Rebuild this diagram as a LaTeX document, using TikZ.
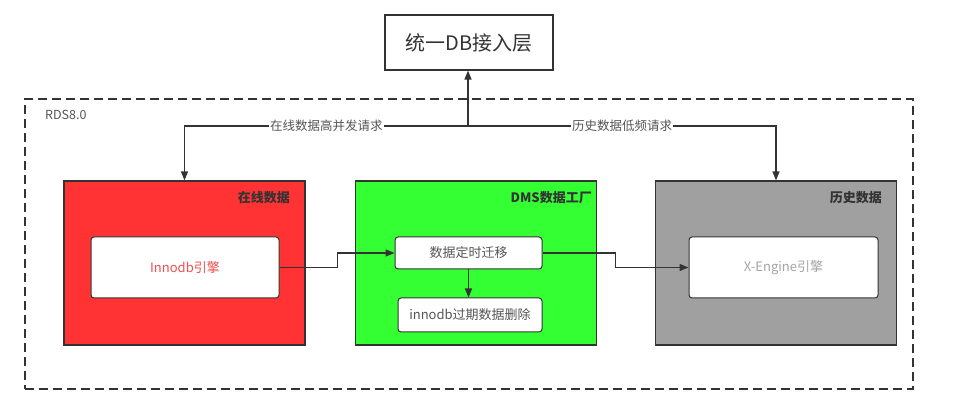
\documentclass[tikz,border=0pt]{standalone}
\usepackage{fontspec}
\setmainfont{Noto Sans CJK SC}
\usetikzlibrary{arrows.meta, positioning, calc}
\definecolor{onlinered}{RGB}{255, 51, 51}
\definecolor{dmsgreen}{RGB}{51, 255, 51}
\definecolor{historygray}{RGB}{160, 160, 160}
\definecolor{linegray}{RGB}{51, 51, 51}
\definecolor{textgray}{RGB}{85, 85, 85}
\definecolor{enginered}{RGB}{240, 80, 80}
\definecolor{enginegray}{RGB}{165, 165, 165}

\begin{document}
\begin{tikzpicture}[
    x=1pt, y=-1pt,
    group/.style={draw=linegray, line width=1.2pt, minimum width=241pt, minimum height=164pt, inner sep=0pt},
    engine/.style={draw=linegray, line width=1pt, rounded corners=3pt, fill=white, align=center, font=\fontsize{13}{15}\selectfont, text=textgray},
    title/.style={font=\bfseries\fontsize{13}{15}\selectfont, text=linegray, anchor=east, inner sep=0pt},
    reqlabel/.style={font=\fontsize{12.5}{14}\selectfont, text=textgray, fill=white, inner sep=1pt},
    arrow/.style={-{Triangle[length=9pt, width=7pt]}, line width=1.4pt, draw=linegray}
]
\useasboundingbox (0,0) rectangle (972,419);

% Access layer
\node[draw=linegray, line width=1.2pt, minimum width=168pt, minimum height=55pt, font=\fontsize{20}{24}\selectfont, text=linegray] (dbtop) at (469,42.5) {统一DB接入层};

% RDS container
\node[draw=linegray, line width=1.2pt, dashed, dash pattern=on 9pt off 5pt, minimum width=888pt, minimum height=290pt] (rds) at (469,244) {};
\node[font=\fontsize{12.5}{14}\selectfont, text=textgray, anchor=west, inner sep=0pt] (rdslabel) at (45,115) {RDS8.0};

% Groups
\node[group, fill=onlinered] (online) at (184.5,263) {};
\node[group, fill=dmsgreen] (dms) at (476,263) {};
\node[group, fill=historygray] (history) at (776,263) {};

\node[title] (onlinetitle) at (290,198) {在线数据};
\node[title] (dmstitle) at (592,198) {DMS数据工厂};
\node[title] (historytitle) at (882,198) {历史数据};

% Engines and jobs
\node[engine, minimum width=188pt, minimum height=61pt, text=enginered] (innodb) at (185,267.5) {Innodb引擎};
\node[engine, minimum width=147pt, minimum height=32pt] (migrate) at (468.5,253) {数据定时迁移};
\node[engine, minimum width=144pt, minimum height=34pt] (purge) at (470,315) {innodb过期数据删除};
\node[engine, minimum width=189pt, minimum height=61pt, text=enginegray] (xengine) at (783.5,267.5) {X-Engine引擎};

% Requests
\coordinate (split) at (468,126);
\draw[arrow] (split) -- (split |- dbtop.south);
\draw[arrow] (split) -| node[reqlabel, pos=0.25] {在线数据高并发请求} (online.north);
\draw[arrow] (split) -| node[reqlabel, pos=0.25] {历史数据低频请求} (history.north);

% Data flow
\draw[arrow] (innodb.east) -- ++(58,0) |- (migrate.west);
\draw[arrow] (migrate.east) -- ++(73,0) |- (xengine.west);
\draw[arrow] (migrate.south) -- (migrate.south |- purge.north);

\end{tikzpicture}
\end{document}
